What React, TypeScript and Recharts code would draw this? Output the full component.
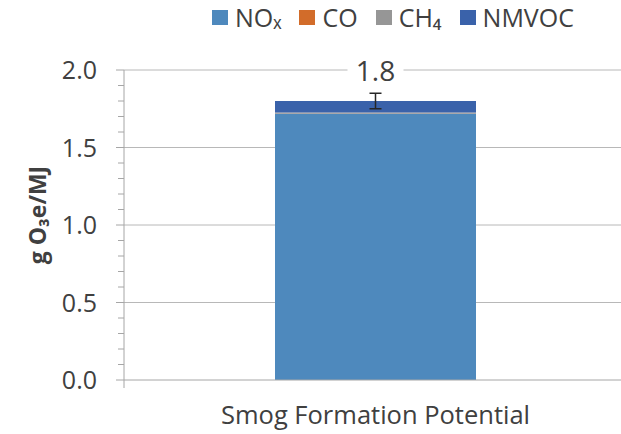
import React from "react";
import {
  BarChart,
  Bar,
  XAxis,
  YAxis,
  CartesianGrid,
  Legend,
  ErrorBar,
  LabelList,
} from "recharts";

// Smog formation potential, split by contributing pollutant (g O3e/MJ)
const categories = ["Smog Formation Potential"];
const noxValues = [1.72];
const coValues = [0.001];
const ch4Values = [0.005];
const nmvocValues = [0.074];
const totalError = [0.05];

const yTicks = [
  0, 0.1, 0.2, 0.3, 0.4, 0.5, 0.6, 0.7, 0.8, 0.9, 1.0, 1.1, 1.2, 1.3, 1.4, 1.5,
  1.6, 1.7, 1.8, 1.9, 2.0,
];
const gridValues = [0.5, 1.0, 1.5, 2.0];

const series = [
  { key: "nox", name: "NOₓ", color: "#4e89bd" },
  { key: "co", name: "CO", color: "#d26c2a" },
  { key: "ch4", name: "CH₄", color: "#969696" },
  { key: "nmvoc", name: "NMVOC", color: "#3a62aa" },
];

const data = categories.map((name, i) => ({
  name,
  nox: noxValues[i],
  co: coValues[i],
  ch4: ch4Values[i],
  nmvoc: nmvocValues[i],
  total: noxValues[i] + coValues[i] + ch4Values[i] + nmvocValues[i],
  err: totalError[i],
}));

const FONT = "'Open Sans', sans-serif";
const TEXT = "#404040";
const AXIS = "#a6a6a6";
const GRID = "#b8b8b8";

const YTick = (props: any) => {
  const { x, y, payload } = props;
  const v = payload.value as number;
  const major = Math.round(v * 10) % 5 === 0;
  return (
    <g>
      <line x1={x - (major ? 8 : 6)} y1={y} x2={x} y2={y} stroke={AXIS} strokeWidth={1} />
      {v === 0 && <line x1={x} y1={y} x2={x} y2={y + 8} stroke={AXIS} strokeWidth={1} />}
      {major && (
        <text
          x={x - 27}
          y={y}
          dy="0.36em"
          textAnchor="end"
          fontFamily={FONT}
          fontSize={25}
          fill={TEXT}
        >
          {v.toFixed(1)}
        </text>
      )}
    </g>
  );
};

const YTitle = (props: any) => {
  const { viewBox } = props;
  const cx = viewBox.x + 37;
  const cy = viewBox.y + viewBox.height / 2 - 10;
  return (
    <text
      x={cx}
      y={cy}
      transform={`rotate(-90 ${cx} ${cy})`}
      textAnchor="middle"
      dominantBaseline="central"
      fontFamily={FONT}
      fontWeight="bold"
      fontSize={23}
      fill={TEXT}
    >
      g O₃e/MJ
    </text>
  );
};

const TotalLabel = (props: any) => {
  const { x, y, width, value } = props;
  const cx = x + width / 2;
  const cy = y - 30;
  return (
    <g>
      <rect x={cx - 28} y={cy - 14} width={56} height={28} fill="#ffffff" />
      <text
        x={cx}
        y={cy}
        dy="0.36em"
        textAnchor="middle"
        fontFamily={FONT}
        fontSize={28}
        fill={TEXT}
      >
        {Number(value).toFixed(1)}
      </text>
    </g>
  );
};

const LegendContent = () => (
  <div style={{ display: "flex", alignItems: "center", fontFamily: FONT, fontSize: 25, color: TEXT }}>
    {series.map((s) => (
      <div key={s.key} style={{ display: "flex", alignItems: "center", marginRight: 18 }}>
        <span style={{ display: "inline-block", width: 16, height: 15, background: s.color, marginRight: 7 }} />
        <span style={{ lineHeight: "30px" }}>{s.name}</span>
      </div>
    ))}
  </div>
);

export default function App() {
  return (
    <div
      style={{
        position: "absolute",
        left: 0,
        top: 0,
        width: 621,
        height: 434,
        overflow: "hidden",
        background: "#ffffff",
      }}
    >
      <BarChart
        width={627}
        height={434}
        data={data}
        margin={{ top: 70, right: 0, bottom: 0, left: 0 }}
        barSize={201}
      >
        <CartesianGrid
          vertical={false}
          horizontalValues={gridValues}
          stroke={GRID}
          strokeWidth={1}
        />
        <XAxis
          dataKey="name"
          axisLine={{ stroke: AXIS, strokeWidth: 1 }}
          tickLine={false}
          tickSize={0}
          tickMargin={26}
          height={54}
          tick={{ fontFamily: FONT, fontSize: 25.5, fill: TEXT }}
        />
        <YAxis
          width={124}
          domain={[0, 2]}
          ticks={yTicks}
          interval={0}
          axisLine={{ stroke: AXIS, strokeWidth: 1 }}
          tickLine={false}
          tickSize={0}
          tickMargin={0}
          tick={<YTick />}
          label={<YTitle />}
        />
        <Legend
          layout="horizontal"
          verticalAlign="middle"
          align="center"
          wrapperStyle={{ top: 2, left: 212, width: "auto" }}
          content={<LegendContent />}
        />
        {series.map((s, i) => (
          <Bar
            key={s.key}
            dataKey={s.key}
            name={s.name}
            stackId="total"
            fill={s.color}
            isAnimationActive={false}
          >
            {i === series.length - 1 && (
              <ErrorBar dataKey="err" width={6} stroke="#262626" strokeWidth={1.5} direction="y" />
            )}
            {i === series.length - 1 && <LabelList dataKey="total" content={<TotalLabel />} />}
          </Bar>
        ))}
      </BarChart>
    </div>
  );
}
